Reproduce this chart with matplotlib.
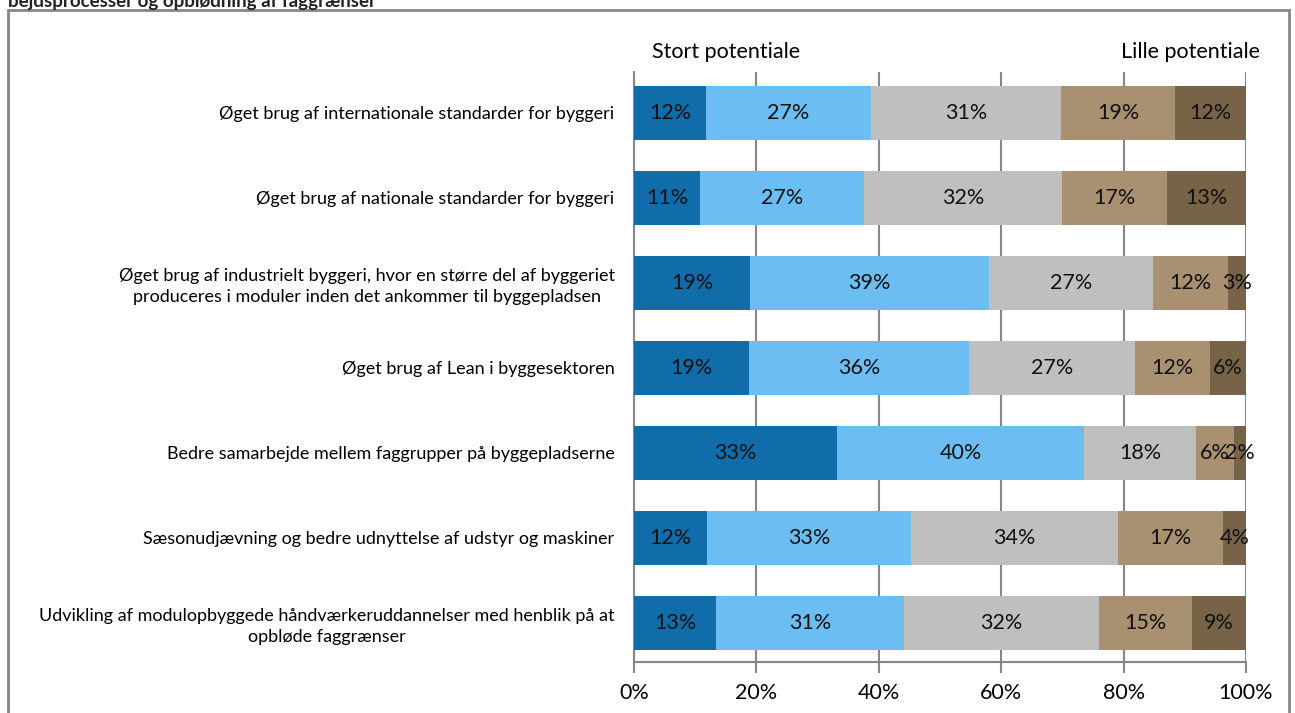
import numpy as np
import matplotlib.pyplot as plt
from matplotlib.patches import Rectangle

plt.rcParams['font.family'] = ['Lato', 'DejaVu Sans']

categories = [
    'Øget brug af internationale standarder for byggeri',
    'Øget brug af nationale standarder for byggeri',
    'Øget brug af industrielt byggeri, hvor en større del af byggeriet\nproduceres i moduler inden det ankommer til byggepladsen',
    'Øget brug af Lean i byggesektoren',
    'Bedre samarbejde mellem faggrupper på byggepladserne',
    'Sæsonudjævning og bedre udnyttelse af udstyr og maskiner',
    'Udvikling af modulopbyggede håndværkeruddannelser med henblik på at\nopbløde faggrænser',
]
# andele pr. kategori, fra stort til lille potentiale
level1 = [11.8, 10.8, 19.0, 18.8, 33.2, 11.9, 13.4]
level2 = [26.9, 26.8, 39.0, 35.9, 40.3, 33.4, 30.7]
level3 = [31.1, 32.3, 26.8, 27.2, 18.4, 33.8, 31.9]
level4 = [18.6, 17.2, 12.3, 12.2, 6.1, 17.2, 15.2]
level5 = [11.6, 12.9, 2.9, 5.9, 2.0, 3.8, 8.8]
xticks = [0, 20, 40, 60, 80, 100]

colors = ['#106DA9', '#6BBDF2', '#BFBFBF', '#A89070', '#766348']
grey = '#868686'

fig = plt.figure(figsize=(12.95, 7.13), dpi=100)
ax = fig.add_axes([634/1295, 1-662/713, 612/1295, 590/713])

y = np.arange(len(categories))
left = np.zeros(len(categories))
for vals, c in zip([level1, level2, level3, level4, level5], colors):
    vals = np.array(vals)
    ax.barh(y, vals, left=left, height=0.635, color=c, zorder=3)
    for yi, l, v in zip(y, left, vals):
        ax.text(l + v/2, yi, '%d%%' % round(v), ha='center', va='center',
                fontsize=15.5, color='#111111', zorder=4)
    left += vals

ax.set_xlim(0, 100)
ax.set_ylim(6.46, -0.48)
ax.set_xticks(xticks)
ax.set_xticklabels(['%d%%' % t for t in xticks], fontsize=15.5)
ax.set_yticks(y)
ax.set_yticklabels(categories, fontsize=13, multialignment='center', linespacing=1.35)
ax.tick_params(axis='y', length=0, pad=14)
ax.tick_params(axis='x', direction='out', length=8, width=1.5, color=grey, pad=7)
for t in xticks[1:]:
    ax.axvline(t, color=grey, lw=1.5, zorder=1)
for s in ['top', 'right']:
    ax.spines[s].set_visible(False)
for s in ['left', 'bottom']:
    ax.spines[s].set_color(grey)
    ax.spines[s].set_linewidth(1.5)

ax.text(0.03, 1.017, 'Stort potentiale', transform=ax.transAxes, fontsize=15.5, ha='left', va='bottom')
ax.text(1.023, 1.017, 'Lille potentiale', transform=ax.transAxes, fontsize=15.5, ha='right', va='bottom')

# ramme og afskåret overskrift
fig.patches.append(Rectangle((8/1295, -0.05), 1281/1295, 1.05 - 10/713,
                             transform=fig.transFigure, fill=False,
                             edgecolor=grey, lw=2))
fig.text(8/1295, 1 - 1/713, 'bejdsprocesser og opblødning af faggrænser', fontsize=13.5,
         fontweight='bold', color='#222222', ha='left', va='center')

fig.savefig('out.png', dpi=100)
